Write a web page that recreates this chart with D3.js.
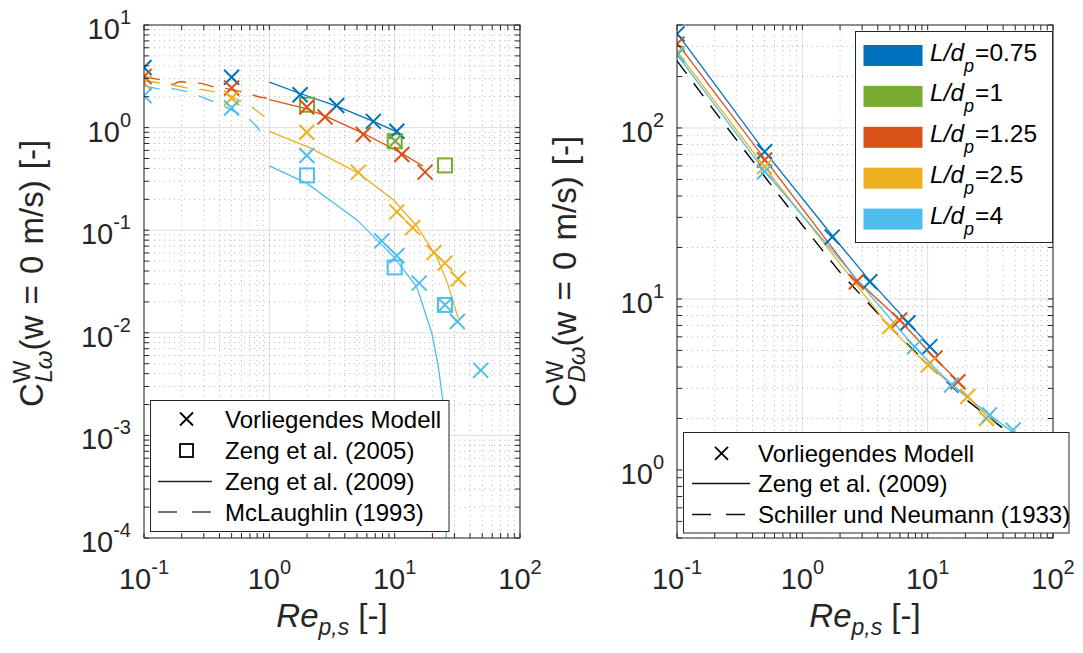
<!DOCTYPE html>
<html><head><meta charset="utf-8">
<script src="https://cdn.jsdelivr.net/npm/d3@7"></script>
<style>body{margin:0;background:#fff;} svg{display:block;font-family:"Liberation Sans",Arial,Helvetica,sans-serif;}</style>
</head><body><svg id="c" width="1083" height="653"></svg>
<script>
// ---------- categories / colours ----------
const ratioLabels = ["0.75", "1", "1.25", "2.5", "4"];
const ratioColors = ["#0072BD", "#77AC30", "#D95319", "#EDB120", "#4DBEEE"];
const xTickExps = ["-1", "0", "1", "2"];
const leftYTickExps = ["-4", "-3", "-2", "-1", "0", "1"];
const rightYTickExps = ["0", "1", "2"];

// ---------- LEFT: lift coefficient ----------
// Vorliegendes Modell (x markers)
const liftModel075Re = [0.1, 0.5, 1.76, 3.45, 6.76, 10.4];
const liftModel075C = [3.85, 3.1, 2.09, 1.64, 1.15, 0.92];
const liftModel1Re = [10.1];
const liftModel1C = [0.74];
const liftModel125Re = [0.1, 0.5, 1.99, 2.78, 5.62, 11.4, 17.5];
const liftModel125C = [3.15, 2.43, 1.59, 1.27, 0.855, 0.547, 0.368];
const liftModel25Re = [0.1, 0.5, 1.99, 5.13, 10.4, 13.9, 20.6, 25.2, 32.2];
const liftModel25C = [2.73, 1.94, 0.90, 0.368, 0.151, 0.106, 0.0607, 0.0478, 0.0334];
const liftModel4Re = [0.1, 0.5, 1.99, 7.89, 10.4, 15.7, 25.2, 31.6, 48.6];
const liftModel4C = [2.05, 1.55, 0.534, 0.0787, 0.0564, 0.0305, 0.0187, 0.0129, 0.0043];
// Zeng et al. (2005) (squares)
const liftZeng05_1Re = [2, 10, 25.2];
const liftZeng05_1C = [1.67, 0.736, 0.428];
const liftZeng05_4Re = [2, 10, 25.2];
const liftZeng05_4C = [0.342, 0.0434, 0.0187];
// Zeng et al. (2009) (solid lines)
const liftZeng09_075Re = [1, 1.76, 3.45, 6.76, 10, 11.6];
const liftZeng09_075C = [2.78, 2.15, 1.62, 1.15, 0.93, 0.80];
const liftZeng09_125Re = [1, 2, 2.78, 5.62, 11.4, 16.9];
const liftZeng09_125C = [1.87, 1.52, 1.30, 0.88, 0.56, 0.42];
const liftZeng09_25Re = [1, 2.11, 5.13, 9.8, 15, 21.6, 26.5, 31, 32.2];
const liftZeng09_25C = [0.92, 0.635, 0.36, 0.197, 0.11, 0.055, 0.03, 0.016, 0.0139];
const liftZeng09_4Re = [1, 2, 5, 9.8, 15, 19.8, 22.3, 24.2, 25.3, 25.8];
const liftZeng09_4C = [0.423, 0.286, 0.126, 0.0552, 0.0281, 0.0099, 0.00468, 0.00221, 0.0008, 0.0001];
// McLaughlin (1993) (dashed lines)
const liftMcL125Re = [0.1, 0.138, 0.17, 0.19, 0.288, 0.392, 0.457, 0.64, 0.817, 0.953];
const liftMcL125C = [3.13, 2.91, 2.62, 2.8, 2.70, 2.42, 2.40, 2.19, 2.0, 1.93];
const liftMcL25Re = [0.1, 0.138, 0.17, 0.233, 0.288, 0.392, 0.457, 0.70, 0.817, 0.953];
const liftMcL25C = [2.85, 2.72, 2.6, 2.4, 2.35, 2.2, 2.08, 1.65, 1.42, 1.23];
const liftMcL4Re = [0.1, 0.138, 0.17, 0.24, 0.3, 0.41, 0.49, 0.70, 0.817, 0.953];
const liftMcL4C = [2.55, 2.35, 2.4, 2.2, 1.95, 1.68, 1.5, 1.2, 0.98, 0.73];

// ---------- RIGHT: drag coefficient ----------
const dragModel075Re = [0.1, 0.5, 1.73, 3.45, 6.97, 10.4];
const dragModel075C = [355, 72.6, 23.0, 12.6, 7.26, 5.26];
const dragModel125Re = [0.1, 0.5, 2.7, 5.98, 11.4, 17.4];
const dragModel125C = [310, 65, 12.6, 7.54, 4.5, 3.28];
const dragModel25Re = [0.1, 0.5, 4.98, 10.1, 20.9, 29.4];
const dragModel25C = [274, 59.4, 6.9, 4.11, 2.69, 2.0];
const dragModel4Re = [0.1, 0.5, 7.87, 15.5, 31.2, 48];
const dragModel4C = [267, 55.5, 5.26, 3.14, 2.1, 1.71];
const dragZeng09_075Re = [0.1, 0.5, 1.73, 3.45, 6.97, 12];
const dragZeng09_075C = [358, 73, 23.5, 12.8, 7.3, 4.7];
const dragZeng09_125Re = [0.1, 0.5, 2.7, 6, 11.4, 20];
const dragZeng09_125C = [315, 66, 13, 7.5, 4.5, 3.0];
const dragZeng09_25Re = [0.1, 0.5, 5, 10, 21, 35];
const dragZeng09_25C = [280, 59, 6.8, 4.1, 2.65, 1.85];
const dragZeng09_4Re = [0.1, 0.5, 7.9, 15.5, 31, 50];
const dragZeng09_4C = [268, 56, 5.2, 3.15, 2.1, 1.62];
const dragSchillerRe = [0.1, 0.2, 0.5, 1, 2, 5, 10, 20, 50, 60];
const dragSchillerC = [247, 125, 52, 27, 14.3, 6.9, 4.15, 2.6, 1.54, 1.38];

const leftLegendLabels = ["Vorliegendes Modell", "Zeng et al. (2005)", "Zeng et al. (2009)", "McLaughlin (1993)"];
const rightLegendLabels = ["Vorliegendes Modell", "Zeng et al. (2009)", "Schiller und Neumann (1933)"];

// ---------- build ----------
const zip = (a, b) => a.map((v, i) => [v, b[i]]);
const AX = "#262626";
const svg = d3.select("#c");
svg.append("rect").attr("width", 1083).attr("height", 653).attr("fill", "#fff");

const panels = [
  {id: "L", x0: 144, x1: 520, y0: 25, y1: 538, yDom: [1e-4, 10], yExps: leftYTickExps, sub: "Lω",
   models: [[liftModel075Re, liftModel075C, 0], [liftModel1Re, liftModel1C, 1], [liftModel125Re, liftModel125C, 2], [liftModel25Re, liftModel25C, 3], [liftModel4Re, liftModel4C, 4]],
   squares: [[liftZeng05_1Re, liftZeng05_1C, 1], [liftZeng05_4Re, liftZeng05_4C, 4]],
   solids: [[liftZeng09_075Re, liftZeng09_075C, 0], [liftZeng09_125Re, liftZeng09_125C, 2], [liftZeng09_25Re, liftZeng09_25C, 3], [liftZeng09_4Re, liftZeng09_4C, 4]],
   dashes: [[liftMcL125Re, liftMcL125C, 2], [liftMcL25Re, liftMcL25C, 3], [liftMcL4Re, liftMcL4C, 4]]},
  {id: "R", x0: 677, x1: 1053, y0: 25, y1: 538, yDom: [0.4, 400], yExps: rightYTickExps, sub: "Dω",
   models: [[dragModel075Re, dragModel075C, 0], [dragModel125Re, dragModel125C, 2], [dragModel25Re, dragModel25C, 3], [dragModel4Re, dragModel4C, 4]],
   squares: [],
   solids: [[dragZeng09_075Re, dragZeng09_075C, 0], [dragZeng09_125Re, dragZeng09_125C, 2], [dragZeng09_25Re, dragZeng09_25C, 3], [dragZeng09_4Re, dragZeng09_4C, 4]],
   dashes: [[dragSchillerRe, dragSchillerC, -1]]}
];

function logTicks(dom) {
  const out = [];
  const lo = Math.floor(Math.log10(dom[0]) + 1e-9), hi = Math.ceil(Math.log10(dom[1]) - 1e-9);
  for (let e = lo; e <= hi; e++) for (let k = 1; k <= 9; k++) {
    const v = k * Math.pow(10, e);
    if (v >= dom[0] * 0.999 && v <= dom[1] * 1.001) out.push({v, major: k === 1});
  }
  return out;
}

panels.forEach(p => {
  const x = d3.scaleLog().domain([0.1, 100]).range([p.x0, p.x1]);
  const y = d3.scaleLog().domain(p.yDom).range([p.y1, p.y0]);
  const g = svg.append("g");
  const xt = logTicks([0.1, 100]), yt = logTicks(p.yDom);
  // grid
  const grid = g.append("g");
  xt.forEach(t => grid.append("line").attr("x1", x(t.v)).attr("x2", x(t.v)).attr("y1", p.y0).attr("y2", p.y1)
    .attr("stroke", t.major ? "#dedede" : "#bdbdbd").attr("stroke-width", 1)
    .attr("stroke-dasharray", t.major ? null : "1.2,3.8"));
  yt.forEach(t => grid.append("line").attr("y1", y(t.v)).attr("y2", y(t.v)).attr("x1", p.x0).attr("x2", p.x1)
    .attr("stroke", t.major ? "#dedede" : "#bdbdbd").attr("stroke-width", 1)
    .attr("stroke-dasharray", t.major ? null : "1.2,3.8"));
  // clip
  const cid = "clip" + p.id;
  svg.append("clipPath").attr("id", cid).append("rect").attr("x", p.x0).attr("y", p.y0).attr("width", p.x1 - p.x0).attr("height", p.y1 - p.y0);
  const d = g.append("g").attr("clip-path", `url(#${cid})`);
  const line = d3.line().x(q => x(q[0])).y(q => y(q[1]));
  p.dashes.forEach(([re, c, ci]) => d.append("path").attr("d", line(zip(re, c))).attr("fill", "none")
    .attr("stroke", ci < 0 ? "#000" : ratioColors[ci]).attr("stroke-width", 1.4).attr("stroke-dasharray", "16,12"));
  p.solids.forEach(([re, c, ci]) => d.append("path").attr("d", line(zip(re, c))).attr("fill", "none")
    .attr("stroke", ratioColors[ci]).attr("stroke-width", 1.3));
  p.squares.forEach(([re, c, ci]) => zip(re, c).forEach(q => d.append("rect")
    .attr("x", x(q[0]) - 7).attr("y", y(q[1]) - 7).attr("width", 14).attr("height", 14)
    .attr("fill", "none").attr("stroke", ratioColors[ci]).attr("stroke-width", 2)));
  p.models.forEach(([re, c, ci]) => zip(re, c).forEach(q => d.append("path")
    .attr("transform", `translate(${x(q[0])},${y(q[1])})`).attr("d", "M-7.5,-7.5L7.5,7.5M-7.5,7.5L7.5,-7.5")
    .attr("stroke", ratioColors[ci]).attr("stroke-width", 2).attr("fill", "none")));
  // box + ticks
  const ax = g.append("g").attr("stroke", AX).attr("stroke-width", 1);
  ax.append("rect").attr("x", p.x0).attr("y", p.y0).attr("width", p.x1 - p.x0).attr("height", p.y1 - p.y0).attr("fill", "none");
  const TL = 5;
  xt.forEach(t => {
    ax.append("line").attr("x1", x(t.v)).attr("x2", x(t.v)).attr("y1", p.y1).attr("y2", p.y1 - TL);
    ax.append("line").attr("x1", x(t.v)).attr("x2", x(t.v)).attr("y1", p.y0).attr("y2", p.y0 + TL);
  });
  yt.forEach(t => {
    ax.append("line").attr("y1", y(t.v)).attr("y2", y(t.v)).attr("x1", p.x0).attr("x2", p.x0 + TL);
    ax.append("line").attr("y1", y(t.v)).attr("y2", y(t.v)).attr("x1", p.x1).attr("x2", p.x1 - TL);
  });
  // tick labels
  const lab = (px, py, e, anchor) => {
    const t = g.append("text").attr("x", px).attr("y", py).attr("text-anchor", anchor).attr("font-size", 29).attr("fill", AX);
    t.append("tspan").text("10");
    t.append("tspan").attr("dy", -15).attr("font-size", 20).text(e);
  };
  xTickExps.forEach(e => lab(x(Math.pow(10, +e)), p.y1 + 51, e, "middle"));
  p.yExps.forEach(e => lab(p.x0 - 13, y(Math.pow(10, +e)) + 14, e, "end"));
  // x title
  const xtTxt = g.append("text").attr("x", (p.x0 + p.x1) / 2).attr("y", 627).attr("text-anchor", "middle").attr("font-size", 33).attr("fill", AX);
  xtTxt.append("tspan").attr("font-style", "italic").text("Re");
  xtTxt.append("tspan").attr("font-style", "italic").attr("font-size", 23).attr("dy", 8).text("p,s");
  xtTxt.append("tspan").attr("dy", -8).text(" [-]");
  // y title
  const bx = p.x0 - 101;
  const yTxt = g.append("text").attr("transform", `translate(${bx},407) rotate(-90)`).attr("text-anchor", "start")
    .attr("font-size", 33).attr("fill", AX).attr("word-spacing", 2);
  yTxt.append("tspan").text("C");
  yTxt.append("tspan").attr("font-size", 24).attr("dy", -13).text("W");
  yTxt.append("tspan").attr("font-size", 24).attr("font-style", "italic").attr("dx", -22).attr("dy", 22).text(p.sub);
  yTxt.append("tspan").attr("dy", -9).text("(w = 0 m/s) [-]");
});

// ---------- left legend ----------
{
  const g = svg.append("g");
  g.append("rect").attr("x", 150.5).attr("y", 400.5).attr("width", 298.5).attr("height", 131).attr("fill", "#fff").attr("stroke", AX).attr("stroke-width", 1);
  const rows = [419, 450.5, 481.5, 512];
  const mx = 186.5;
  g.append("path").attr("transform", `translate(${mx},${rows[0]})`).attr("d", "M-6.5,-6.5L6.5,6.5M-6.5,6.5L6.5,-6.5").attr("stroke", "#000").attr("stroke-width", 1.8);
  g.append("rect").attr("x", mx - 6.5).attr("y", rows[1] - 6.5).attr("width", 13).attr("height", 13).attr("fill", "none").attr("stroke", "#000").attr("stroke-width", 1.8);
  g.append("line").attr("x1", 158).attr("x2", 212).attr("y1", rows[2]).attr("y2", rows[2]).attr("stroke", "#222").attr("stroke-width", 1.3);
  g.append("line").attr("x1", 158).attr("x2", 212).attr("y1", rows[3]).attr("y2", rows[3]).attr("stroke", "#444").attr("stroke-width", 1.3).attr("stroke-dasharray", "19,15");
  leftLegendLabels.forEach((s, i) => g.append("text").attr("x", 225).attr("y", rows[i] + 8.5).attr("font-size", 24).attr("fill", "#000").text(s));
}
// ---------- right bottom legend ----------
{
  const g = svg.append("g");
  g.append("rect").attr("x", 683.5).attr("y", 432.5).attr("width", 385.5).attr("height", 100.5).attr("fill", "#fff").attr("stroke", AX).attr("stroke-width", 1);
  const rows = [453.3, 483.5, 514.5];
  const mx = 721.5;
  g.append("path").attr("transform", `translate(${mx},${rows[0]})`).attr("d", "M-6.5,-6.5L6.5,6.5M-6.5,6.5L6.5,-6.5").attr("stroke", "#000").attr("stroke-width", 1.8);
  g.append("line").attr("x1", 692).attr("x2", 750).attr("y1", rows[1]).attr("y2", rows[1]).attr("stroke", "#111").attr("stroke-width", 1.3);
  g.append("line").attr("x1", 692).attr("x2", 750).attr("y1", rows[2]).attr("y2", rows[2]).attr("stroke", "#111").attr("stroke-width", 1.3).attr("stroke-dasharray", "19,15");
  rightLegendLabels.forEach((s, i) => g.append("text").attr("x", 758).attr("y", rows[i] + 8.5).attr("font-size", 24).attr("fill", "#000").text(s));
}
// ---------- right top legend (L/dp colours) ----------
{
  const g = svg.append("g");
  g.append("rect").attr("x", 855.5).attr("y", 31.5).attr("width", 197).attr("height", 211).attr("fill", "#fff").attr("stroke", AX).attr("stroke-width", 1);
  ratioLabels.forEach((s, i) => {
    const cy = 55.5 + i * 40.9;
    g.append("rect").attr("x", 863.5).attr("y", cy - 10.5).attr("width", 59).attr("height", 21).attr("fill", ratioColors[i]);
    const t = g.append("text").attr("x", 930).attr("y", cy + 5).attr("font-size", 24.5).attr("fill", "#000");
    t.append("tspan").attr("font-style", "italic").text("L/d");
    t.append("tspan").attr("font-style", "italic").attr("font-size", 18).attr("dx", 0).attr("dy", 11).text("p");
    t.append("tspan").attr("dx", 1).attr("dy", -11).text("=" + s);
  });
}
</script></body></html>
